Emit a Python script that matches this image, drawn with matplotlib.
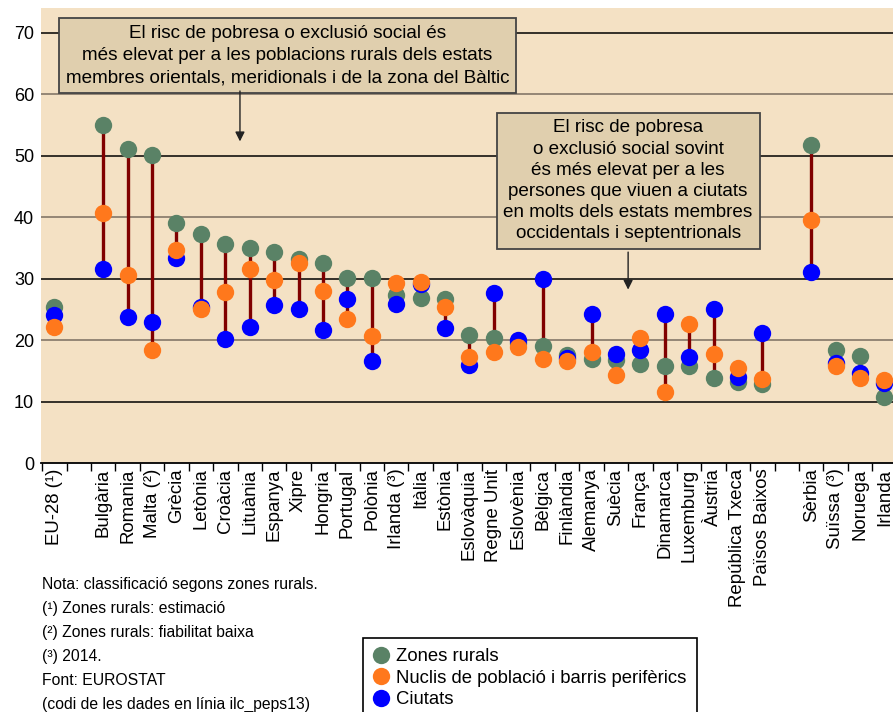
import numpy as np
import matplotlib
matplotlib.use('Agg')
import matplotlib.pyplot as plt
from matplotlib.lines import Line2D

plt.rcParams['font.family'] = ['Liberation Sans', 'DejaVu Sans']

nan = np.nan
countries = ['EU-28 (¹)', '', 'Bulgària', 'Romania', 'Malta (²)', 'Grècia', 'Letònia',
             'Croàcia', 'Lituània', 'Espanya', 'Xipre', 'Hongria', 'Portugal', 'Polònia',
             'Irlanda (³)', 'Itàlia', 'Estònia', 'Eslovàquia', 'Regne Unit', 'Eslovènia',
             'Bèlgica', 'Finlàndia', 'Alemanya', 'Suècia', 'França', 'Dinamarca',
             'Luxemburg', 'Àustria', 'República Txeca', 'Països Baixos', '',
             'Sèrbia', 'Suïssa (³)', 'Noruega', 'Irlanda']
rural = [25.4, nan, 55.0, 51.1, 50.1, 39.0, 37.3, 35.6, 34.9, 34.3, 33.1, 32.5, 30.1, 30.1,
         27.3, 26.9, 26.7, 20.8, 20.3, 19.5, 19.1, 17.6, 16.9, 16.7, 16.1, 15.8, 15.7, 13.9,
         13.1, 12.8, nan, 51.7, 18.4, 17.4, 10.8]
towns = [22.2, nan, 40.6, 30.5, 18.4, 34.6, 25.0, 27.8, 31.5, 29.8, 32.5, 28.0, 23.4, 20.6,
         29.2, 29.5, 25.3, 17.3, 18.0, 18.8, 16.9, 16.6, 18.1, 14.3, 20.3, 11.5, 22.6, 17.7,
         15.4, 13.6, nan, 39.5, 15.7, 13.9, 13.5]
cities = [24.1, nan, 31.5, 23.7, 22.9, 33.4, 25.4, 20.2, 22.2, 25.7, 25.0, 21.7, 26.6, 16.6,
          25.9, 29.1, 22.0, 15.9, 27.6, 20.0, 29.9, 17.0, 24.3, 17.8, 18.4, 24.3, 17.2, 25.0,
          14.0, 21.1, nan, 31.1, 16.3, 14.6, 13.0]
yticks = [0, 10, 20, 30, 40, 50, 60, 70]

box1_text = ('El risc de pobresa o exclusió social és\n'
             'més elevat per a les poblacions rurals dels estats\n'
             'membres orientals, meridionals i de la zona del Bàltic')
box2_text = ('El risc de pobresa\n'
             'o exclusió social sovint\n'
             'és més elevat per a les\n'
             'persones que viuen a ciutats\n'
             'en molts dels estats membres\n'
             'occidentals i septentrionals')
notes = ['Nota: classificació segons zones rurals.',
         '(¹) Zones rurals: estimació',
         '(²) Zones rurals: fiabilitat baixa',
         '(³) 2014.',
         'Font: EUROSTAT',
         '(codi de les dades en línia ilc_peps13)']
legend_labels = ['Zones rurals', 'Nuclis de població i barris perifèrics', 'Ciutats']

c_rural = '#5a8266'
c_towns = '#ff781c'
c_cities = '#0000ff'
c_stem = '#800000'

fig = plt.figure(figsize=(8.93, 7.12), dpi=100)
ax = fig.add_axes([41 / 893, 1 - 463 / 712, 1 - 41 / 893, (463 - 8) / 712])
ax.set_facecolor('#f4e1c4')

x = np.arange(len(countries))
r = np.array(rural)
t = np.array(towns)
c = np.array(cities)
lo = np.nanmin(np.vstack([r, t, c]), axis=0)
hi = np.nanmax(np.vstack([r, t, c]), axis=0)

for v in yticks[1:]:
    col = '#000000' if v % 20 else '#7a6e60'
    ax.axhline(v, color=col, lw=1.1, zorder=1)

ax.vlines(x, lo, hi, color=c_stem, lw=2.4, zorder=2)
ax.plot(x, r, 'o', color=c_rural, ms=12.5, mec='none', zorder=3)
ax.plot(x, c, 'o', color=c_cities, ms=12.5, mec='none', zorder=4)
ax.plot(x, t, 'o', color=c_towns, ms=12.5, mec='none', zorder=5)

ax.set_xlim(-0.55, 34.35)
ax.set_ylim(0, 74)
ax.set_yticks(yticks)
ax.tick_params(axis='y', length=0, pad=5, labelsize=13)

ax.set_xticks(x - 0.5)
ax.set_xticklabels([])
ax.tick_params(axis='x', which='major', direction='out', length=6, width=1, color='black')
ax.set_xticks(x, minor=True)
ax.set_xticklabels(countries, minor=True, rotation=90, fontsize=13.4)
ax.tick_params(axis='x', which='minor', length=0, pad=4)

for s in ['top', 'right', 'left']:
    ax.spines[s].set_visible(False)
ax.spines['bottom'].set_linewidth(1.3)

box_style = dict(boxstyle='square,pad=0.36', facecolor='#e0cfae', edgecolor='#444444', lw=1.3)
ax.text(9.55, 66.2, box1_text, ha='center', va='center', fontsize=13.6, linespacing=1.4,
        bbox=box_style, zorder=6)
ax.annotate('', xy=(7.6, 52.3), xytext=(7.6, 60.5),
            arrowprops=dict(arrowstyle='-|>', color='#222222', lw=1, mutation_scale=14,
                            shrinkA=0, shrinkB=0), zorder=6)
ax.text(23.5, 45.9, box2_text, ha='center', va='center', fontsize=13.6, linespacing=1.32,
        bbox=box_style, zorder=6)
ax.annotate('', xy=(23.5, 28.2), xytext=(23.5, 34.3),
            arrowprops=dict(arrowstyle='-|>', color='#222222', lw=1, mutation_scale=14,
                            shrinkA=0, shrinkB=0), zorder=6)

for i, line in enumerate(notes):
    fig.text(42 / 893, 1 - (589 + i * 24.0) / 712, line, fontsize=11.3, va='baseline', ha='left')

handles = [Line2D([], [], marker='o', ls='none', ms=12.5, color=col, mec='none')
           for col in (c_rural, c_towns, c_cities)]
leg = fig.legend(handles, legend_labels, loc='upper left', bbox_to_anchor=(363 / 893, 1 - 638 / 712),
                 fontsize=13.3, frameon=True, fancybox=False, edgecolor='black', framealpha=1,
                 handlelength=0.9, handletextpad=0.35, borderpad=0.55, labelspacing=0.24,
                 borderaxespad=0)
leg.get_frame().set_linewidth(1.2)

fig.savefig('out.png', dpi=100)
